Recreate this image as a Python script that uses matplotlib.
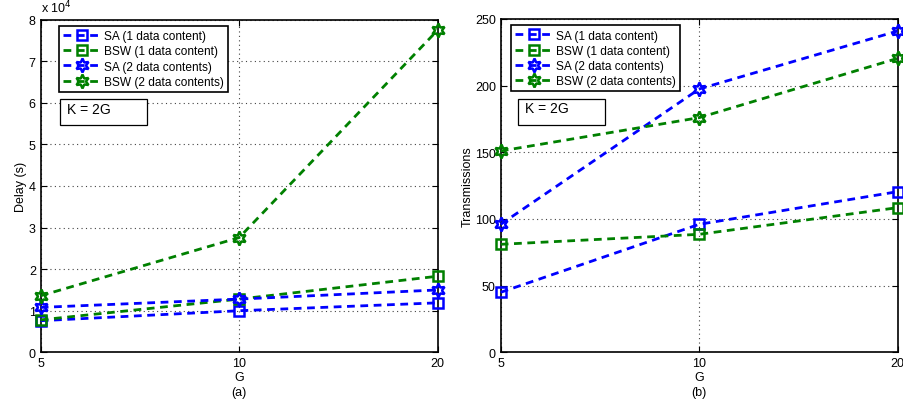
import numpy as np
import matplotlib.pyplot as plt
from matplotlib.patches import Rectangle
from matplotlib.ticker import FixedLocator, FuncFormatter, NullLocator

plt.rcParams["font.family"] = ["Liberation Sans", "DejaVu Sans"]

# data
G = [5, 10, 20]
delay_sa1 = [7600, 10000, 11900]
delay_bsw1 = [7800, 12800, 18300]
delay_sa2 = [10800, 12800, 15000]
delay_bsw2 = [13600, 27600, 77500]

tx_sa1 = [45, 96, 120.5]
tx_bsw1 = [81, 88.5, 108.5]
tx_sa2 = [96, 197.5, 241]
tx_bsw2 = [151, 176, 220.5]

labels = ["SA (1 data content)", "BSW (1 data content)",
          "SA (2 data contents)", "BSW (2 data contents)"]
BLUE = (0, 0, 1)
GREEN = (0, 0.5, 0)
HEX = (6, 1, 0)  # six pointed star, like matlab's hexagram


def draw(ax, series, leg_x, box_x):
    styles = [(BLUE, "s", 6.5), (GREEN, "s", 6.5), (BLUE, HEX, 10), (GREEN, HEX, 10)]
    for ys, lab, (c, m, ms) in zip(series, labels, styles):
        ax.plot(G, ys, linestyle=(0, (2.8, 2.0)), linewidth=2.0, color=c, marker=m,
                markersize=ms, markerfacecolor="none", markeredgecolor=c,
                markeredgewidth=1.8, label=lab, clip_on=False, zorder=3)
    ax.set_xscale("log", base=2)
    ax.set_xlim(5, 20)
    ax.xaxis.set_major_locator(FixedLocator(G))
    ax.xaxis.set_minor_locator(NullLocator())
    ax.xaxis.set_major_formatter(FuncFormatter(lambda v, p: f"{v:g}"))
    ax.tick_params(direction="in", top=True, right=True, labelsize=9, length=4, width=0.8)
    ax.grid(True, linestyle=(0, (1, 3)), color="#444444", linewidth=0.8)
    for s in ax.spines.values():
        s.set_linewidth(1.2)
    ax.set_xlabel("G", fontsize=9, labelpad=1)
    leg = ax.legend(loc="upper left", bbox_to_anchor=(leg_x, 0.981), fontsize=8.6,
                    numpoints=1, handlelength=3.1, handletextpad=0.34,
                    borderpad=0.35, labelspacing=0.27, fancybox=False,
                    edgecolor="black", framealpha=1, borderaxespad=0)
    leg.get_frame().set_linewidth(1.2)
    ax.add_patch(Rectangle((box_x, 0.683), 0.219, 0.078, transform=ax.transAxes,
                           facecolor="white", edgecolor="black", linewidth=0.9,
                           zorder=5))
    ax.text(box_x + 0.017, 0.733, "K = 2G", transform=ax.transAxes, fontsize=10,
            va="center", ha="left", zorder=6)


fig = plt.figure(figsize=(9.04, 4.06), dpi=100)
W, H = 904, 406
ax1 = fig.add_axes([40.7 / W, (H - 353.3) / H, 397 / W, 332.6 / H])
ax2 = fig.add_axes([500.7 / W, (H - 353.3) / H, 397 / W, 333.3 / H])

draw(ax1, [delay_sa1, delay_bsw1, delay_sa2, delay_bsw2], 0.046, 0.049)
ax1.set_ylim(0, 80000)
ax1.yaxis.set_major_locator(FixedLocator(np.arange(0, 80001, 10000)))
ax1.yaxis.set_major_formatter(FuncFormatter(lambda v, p: f"{v / 1e4:g}"))
ax1.set_ylabel("Delay (s)", fontsize=9, labelpad=1)
ax1.text(0.0, 1.012, "x 10$^4$", transform=ax1.transAxes, fontsize=9, va="bottom")
ax1.text(0.5, -0.1, "(a)", transform=ax1.transAxes, fontsize=9, ha="center", va="top")

draw(ax2, [tx_sa1, tx_bsw1, tx_sa2, tx_bsw2], 0.026, 0.044)
ax2.set_ylim(0, 250)
ax2.yaxis.set_major_locator(FixedLocator(np.arange(0, 251, 50)))
ax2.set_ylabel("Transmissions", fontsize=9, labelpad=1)
ax2.text(0.5, -0.1, "(b)", transform=ax2.transAxes, fontsize=9, ha="center", va="top")

fig.savefig("out.png", dpi=100)
